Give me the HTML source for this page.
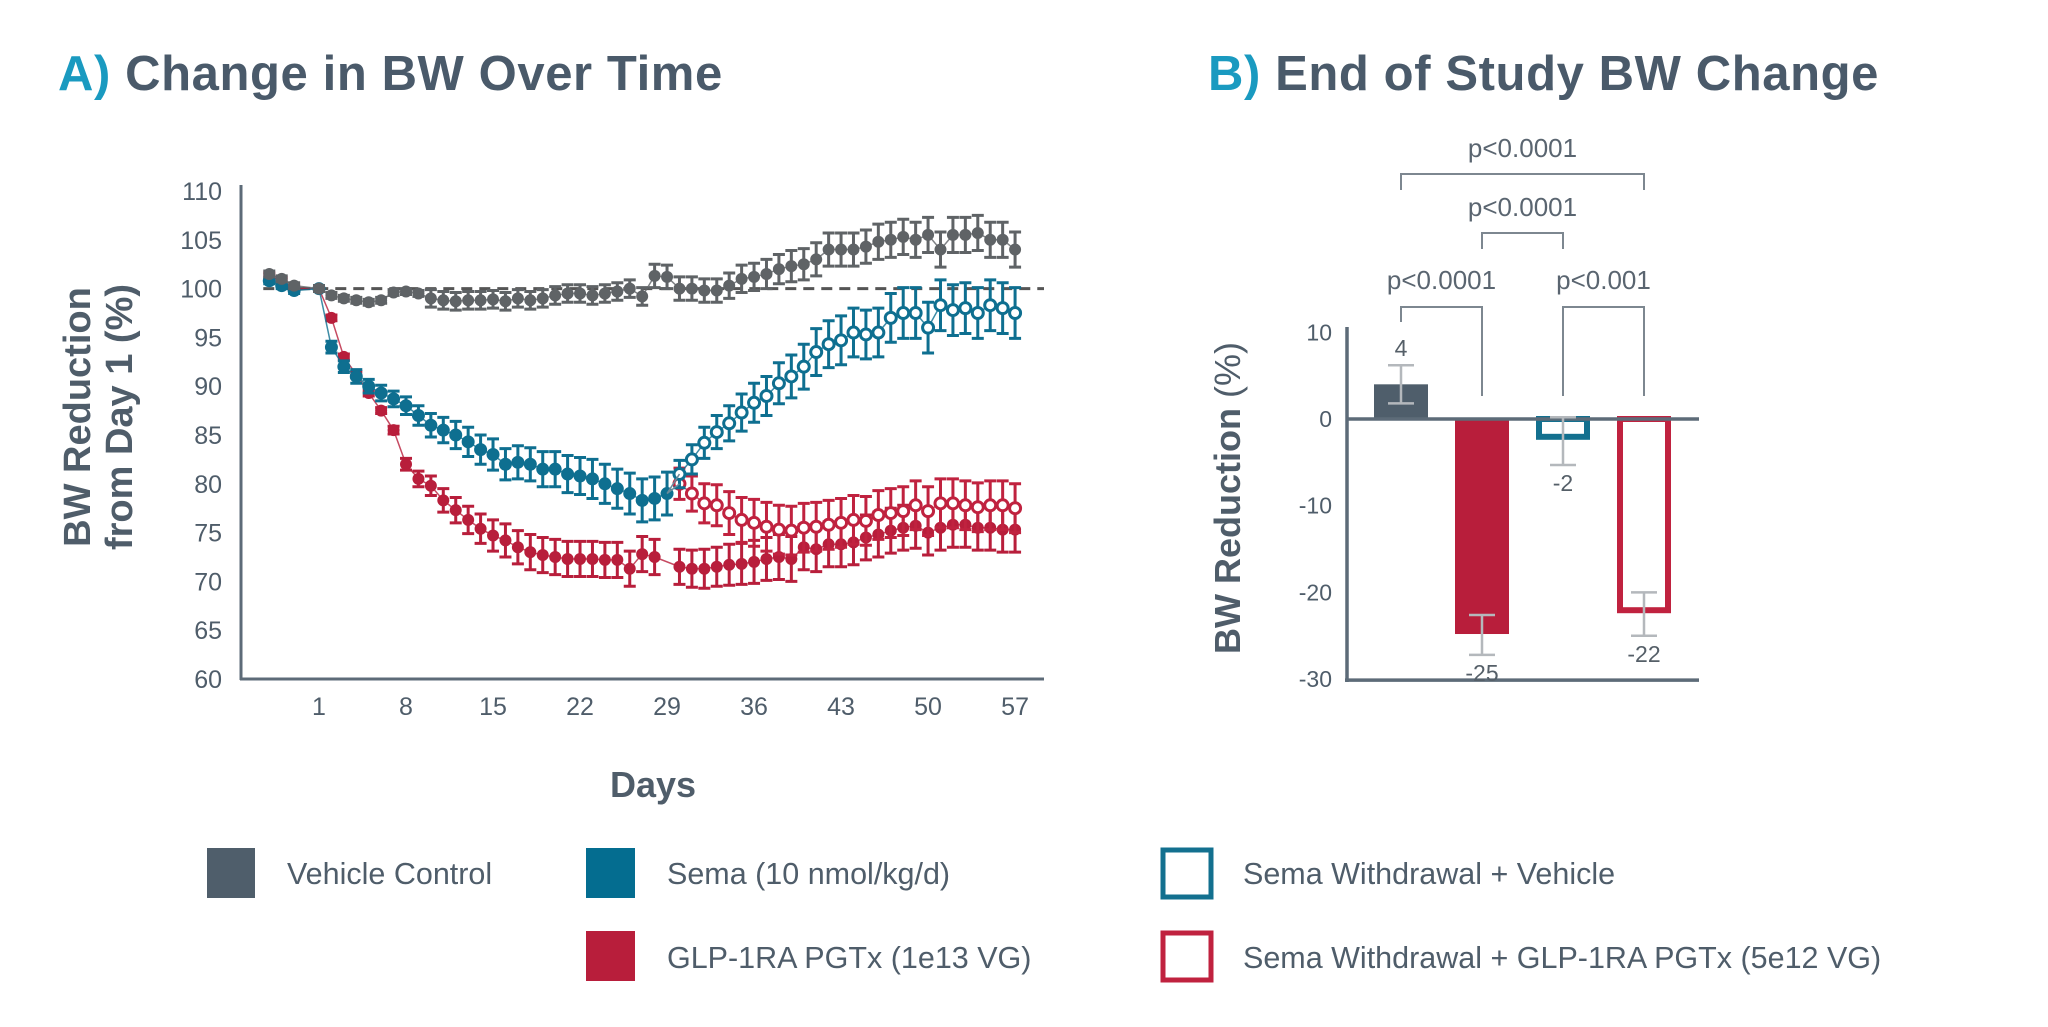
<!DOCTYPE html>
<html><head><meta charset="utf-8"><title>BW Change</title>
<style>
html,body{margin:0;padding:0;background:#fff;}
body{width:2048px;height:1022px;overflow:hidden;font-family:"Liberation Sans",sans-serif;}
svg text{font-family:"Liberation Sans",sans-serif;}
</style></head>
<body>
<svg id="chart" width="2048" height="1022" viewBox="0 0 2048 1022" xmlns="http://www.w3.org/2000/svg">
  <text x="58" y="90" font-size="49" font-weight="bold" letter-spacing="0.6" fill="#4a5a6a"><tspan fill="#1a9ac0">A)</tspan> Change in BW Over Time</text>
  <text x="1208" y="90" font-size="49" font-weight="bold" letter-spacing="0.6" fill="#4a5a6a"><tspan fill="#1a9ac0">B)</tspan> End of Study BW Change</text>

  <g id="panelA"></g>
  <g id="panelB"></g>

  <g font-size="30.5" fill="#4f5d6a">
    <g>
      <rect x="207" y="848" width="48" height="50" fill="#4f5e6b"/>
      <text x="287" y="884">Vehicle Control</text>
    </g>
    <g>
      <rect x="586" y="848" width="49" height="50" fill="#046d90"/>
      <text x="667" y="884">Sema (10 nmol/kg/d)</text>
    </g>
    <g>
      <rect x="586" y="931" width="49" height="50" fill="#b81e3b"/>
      <text x="667" y="968">GLP-1RA PGTx (1e13 VG)</text>
    </g>
    <g>
      <rect x="1163" y="850" width="48" height="47" fill="none" stroke="#13708f" stroke-width="5"/>
      <text x="1243" y="884">Sema Withdrawal + Vehicle</text>
    </g>
    <g>
      <rect x="1163" y="933" width="48" height="47" fill="none" stroke="#c0223f" stroke-width="5"/>
      <text x="1243" y="968">Sema Withdrawal + GLP-1RA PGTx (5e12 VG)</text>
    </g>
  </g>
</svg>
<script>
// ---------- Panel A data ----------
const xTickLabels = [1, 8, 15, 22, 29, 36, 43, 50, 57];
const yTickLabels = [60, 65, 70, 75, 80, 85, 90, 95, 100, 105, 110];

const vehDays = [-3,-2,-1,1,2,3,4,5,6,7,8,9,10,11,12,13,14,15,16,17,18,19,20,21,22,23,24,25,26,27,28,29,30,31,32,33,34,35,36,37,38,39,40,41,42,43,44,45,46,47,48,49,50,51,52,53,54,55,56,57];
const vehVals = [101.5,101,100.3,100,99.3,99,98.8,98.6,98.8,99.6,99.7,99.5,99,98.8,98.7,98.8,98.8,98.9,98.7,99,98.8,99,99.3,99.5,99.5,99.3,99.5,99.7,100,99.2,101.3,101.2,100,100,99.8,99.8,100.3,101,101.2,101.5,102,102.3,102.5,103,104,104,104,104.3,104.8,105,105.3,105,105.5,104,105.5,105.5,105.7,105,105,104];
const vehErr  = [0.3,0.3,0.3,0.3,0.3,0.3,0.3,0.3,0.3,0.3,0.3,0.3,0.9,0.9,0.9,0.9,0.9,0.9,0.9,0.9,0.9,0.9,0.9,0.9,0.9,0.9,0.9,0.9,0.9,0.9,1.2,1.2,1.2,1.2,1.2,1.2,1.3,1.4,1.4,1.5,1.5,1.6,1.6,1.7,1.7,1.7,1.7,1.7,1.8,1.8,1.8,1.8,1.8,1.8,1.8,1.8,1.8,1.8,1.8,1.8];

const semaDays = [-3,-2,-1,1,2,3,4,5,6,7,8,9,10,11,12,13,14,15,16,17,18,19,20,21,22,23,24,25,26,27,28,29];
const semaVals = [100.8,100.3,99.8,100,94,92,91,90,89.3,88.7,88,87,86,85.5,85,84.3,83.5,83,82,82.2,82,81.5,81.5,81,80.8,80.5,80,79.5,79,78.3,78.5,79];
const semaErr  = [0.3,0.3,0.3,0.3,0.6,0.6,0.7,0.7,0.8,0.8,0.9,1,1.2,1.3,1.4,1.5,1.5,1.6,1.6,1.7,1.7,1.8,1.8,1.9,1.9,2,2,2,2.1,2.2,2.2,2.2];

const semaWDays = [30,31,32,33,34,35,36,37,38,39,40,41,42,43,44,45,46,47,48,49,50,51,52,53,54,55,56,57];
const semaWVals = [81,82.5,84.2,85.3,86.2,87.3,88.3,89,90.3,91,92,93.5,94.3,94.7,95.5,95.3,95.5,97,97.5,97.5,96,98.3,97.8,98,97.5,98.3,98,97.5];
const semaWErr  = [1.4,1.5,1.6,1.7,1.8,1.9,2,2,2.1,2.2,2.3,2.4,2.4,2.5,2.5,2.5,2.5,2.5,2.6,2.6,2.6,2.6,2.6,2.6,2.6,2.6,2.6,2.6];

const glpDays = [-3,-2,-1,1,2,3,4,5,6,7,8,9,10,11,12,13,14,15,16,17,18,19,20,21,22,23,24,25,26,27,28,30,31,32,33,34,35,36,37,38,39,40,41,42,43,44,45,46,47,48,49,50,51,52,53,54,55,56,57];
const glpVals = [101.3,100.8,100,100,97,93,91.2,89.3,87.5,85.5,82,80.5,79.8,78.3,77.3,76.3,75.4,74.7,74.2,73.5,73,72.7,72.5,72.3,72.3,72.3,72.2,72.2,71.3,72.8,72.5,71.5,71.3,71.3,71.5,71.7,71.8,72,72.3,72.5,72.3,73.5,73.3,73.8,73.8,74,74.5,74.8,75.2,75.5,75.7,75,75.5,75.8,75.8,75.5,75.5,75.3,75.3];
const glpErr  = [0.3,0.3,0.3,0.3,0.3,0.3,0.3,0.3,0.3,0.4,0.6,0.8,1,1.2,1.3,1.4,1.5,1.6,1.7,1.7,1.8,1.8,1.8,1.8,1.8,1.8,1.8,1.8,1.8,1.8,1.8,1.8,1.9,2,2,2.1,2.1,2.2,2.2,2.3,2.3,2.3,2.3,2.3,2.3,2.3,2.3,2.3,2.3,2.3,2.3,2.3,2.3,2.3,2.3,2.3,2.3,2.3,2.3];

const glpWDays = [30,31,32,33,34,35,36,37,38,39,40,41,42,43,44,45,46,47,48,49,50,51,52,53,54,55,56,57];
const glpWVals = [80,79,78,77.8,77,76.3,76,75.6,75.3,75.2,75.5,75.6,75.8,76,76.3,76.2,76.8,77,77.2,77.8,77.2,78,78,77.8,77.6,77.8,77.8,77.5];
const glpWErr  = [1.6,1.8,2,2.1,2.2,2.3,2.4,2.5,2.5,2.5,2.5,2.5,2.5,2.5,2.5,2.5,2.5,2.5,2.5,2.5,2.5,2.5,2.5,2.5,2.5,2.5,2.5,2.5];

// ---------- Panel B data ----------
const barGroups = ['Vehicle Control','GLP-1RA PGTx (1e13 VG)','Sema Withdrawal + Vehicle','Sema Withdrawal + GLP-1RA PGTx (5e12 VG)'];
const barVals = [4, -24.8, -2.4, -22.4];
const barErrHi = [6.2, -22.6, 0.2, -20];
const barErrLo = [1.8, -27.2, -5.3, -25];
const barLabels = ['4', '-25', '-2', '-22'];
const bTickLabels = [10, 0, -10, -20, -30];
const pLabels = ['p<0.0001', 'p<0.0001', 'p<0.0001', 'p<0.001'];
const pPairs = [[0,3],[1,2],[0,1],[2,3]];

const NS = 'http://www.w3.org/2000/svg';
function mk(tag, attrs, parent) {
  const e = document.createElementNS(NS, tag);
  for (const k in attrs) e.setAttribute(k, attrs[k]);
  parent.appendChild(e);
  return e;
}

// ---------- Panel A ----------
const A = document.getElementById('panelA');
const ax = d => 319 + (d - 1) * 12.43;
const ay = v => 679 - (v - 60) * 9.76;
const AXC = '#5d6b78';

let el = mk('line', {x1: 241, y1: 185, x2: 241, y2: 680, stroke: AXC, 'stroke-width': 3}, A);


el = mk('line', {x1: 240, y1: 679, x2: 1044, y2: 679, stroke: AXC, 'stroke-width': 3}, A);



yTickLabels.forEach(v => {
  const t = mk('text', {x: 222, y: ay(v) + 9, 'font-size': 25, fill: '#4f5d6a', 'text-anchor': 'end'}, A);
  
  
  t.textContent = v;
});
xTickLabels.forEach(d => {
  const t = mk('text', {x: ax(d), y: 715, 'font-size': 25, fill: '#4f5d6a', 'text-anchor': 'middle'}, A);
  
  
  t.textContent = d;
});
el = mk('text', {x: 653, y: 797, 'font-size': 36, 'font-weight': 'bold', fill: '#4f5d6a', 'text-anchor': 'middle'}, A);


el.textContent = 'Days';
el = mk('text', {x: 0, y: 0, 'font-size': 38, 'font-weight': 'bold', fill: '#4f5d6a', 'text-anchor': 'middle', transform: 'translate(90,417) rotate(-90)'}, A);


el.innerHTML = '<tspan x="0" dy="0">BW Reduction</tspan><tspan x="0" dy="42">from Day 1 (%)</tspan>';

el = mk('line', {x1: ax(-3) - 6, y1: ay(100), x2: 1044, y2: ay(100), stroke: '#555', 'stroke-width': 3, 'stroke-dasharray': '11 7'}, A);



function series(name, days, vals, errs, color, open, r) {
  const g = mk('g', {}, A);
  
  
  const pts = days.map((d, i) => ax(d) + ',' + ay(vals[i])).join(' ');
  mk('polyline', {points: pts, fill: 'none', stroke: color, 'stroke-width': 1.5, opacity: 0.8}, g);
  days.forEach((d, i) => {
    const x = ax(d), y1 = ay(vals[i] + errs[i]), y2 = ay(vals[i] - errs[i]);
    const eb = mk('path', {d: `M${x},${y1}V${y2}M${x-6},${y1}H${x+6}M${x-6},${y2}H${x+6}`, stroke: color, 'stroke-width': 3, fill: 'none'}, g);
    
    
  });
  days.forEach((d, i) => {
    const c = mk('circle', {cx: ax(d), cy: ay(vals[i]), r: r, fill: open ? '#fff' : color, stroke: color, 'stroke-width': open ? 3 : 1}, g);
    
    
  });
}
series('series-glp1ra', glpDays, glpVals, glpErr, '#b81e3b', false, 5.5);
series('series-sema', semaDays, semaVals, semaErr, '#0e6f90', false, 6);
series('series-sema-withdrawal-glp1ra', glpWDays, glpWVals, glpWErr, '#c0223f', true, 5.5);
series('series-sema-withdrawal-vehicle', semaWDays, semaWVals, semaWErr, '#0e6f90', true, 5.5);
series('series-vehicle', vehDays, vehVals, vehErr, '#5f6366', false, 5.5);
el = mk('path', {d: `M${ax(29)},${ay(semaVals[semaVals.length-1])}L${ax(30)},${ay(semaWVals[0])}M${ax(29)},${ay(semaVals[semaVals.length-1])}L${ax(30)},${ay(glpWVals[0])}`, stroke: '#6a8a9a', 'stroke-width': 1.5, fill: 'none'}, A);



// ---------- Panel B ----------
const B = document.getElementById('panelB');
const by = v => 419 - v * 8.67;
const bx = i => 1374 + i * 81;
const BW = 54;
const bc = i => bx(i) + BW / 2;
const barFill = ['#4f5e6b', '#b81e3b', 'none', 'none'];
const barStroke = ['none', 'none', '#13708f', '#c0223f'];

el = mk('line', {x1: 1347, y1: 327, x2: 1347, y2: 682, stroke: AXC, 'stroke-width': 3.5}, B);


el = mk('line', {x1: 1345, y1: by(-30) + 1, x2: 1699, y2: by(-30) + 1, stroke: AXC, 'stroke-width': 3.5}, B);



bTickLabels.forEach(v => {
  const t = mk('text', {x: 1332, y: by(v) + 8, 'font-size': 23, fill: '#4f5d6a', 'text-anchor': 'end'}, B);
  
  
  t.textContent = v;
});
el = mk('text', {x: 0, y: 0, 'font-size': 36, 'font-weight': 'bold', fill: '#4f5d6a', 'text-anchor': 'middle', transform: 'translate(1240,498) rotate(-90)'}, B);


el.innerHTML = 'BW Reduction <tspan font-weight="normal">(%)</tspan>';

barVals.forEach((v, i) => {
  const top = Math.min(by(0), by(v)), h = Math.abs(by(v) - by(0));
  let r;
  if (barFill[i] !== 'none') {
    r = mk('rect', {x: bx(i), y: top, width: BW, height: h, fill: barFill[i]}, B);
  } else {
    r = mk('rect', {x: bx(i) + 3, y: top, width: BW - 6, height: h - 3, fill: '#fff', stroke: barStroke[i], 'stroke-width': 6}, B);
  }
  
  
});
el = mk('line', {x1: 1347, y1: by(0), x2: 1699, y2: by(0), stroke: AXC, 'stroke-width': 3.5}, B);



barVals.forEach((v, i) => {
  const x = bc(i), y1 = by(barErrHi[i]), y2 = by(barErrLo[i]);
  const e = mk('path', {d: `M${x},${y1}V${y2}M${x-13},${y1}H${x+13}M${x-13},${y2}H${x+13}`, stroke: '#b4b8bc', 'stroke-width': 2.5, fill: 'none'}, B);
  
  
  const ly = v >= 0 ? by(barErrHi[i]) - 9 : by(barErrLo[i]) + 26;
  const t = mk('text', {x: x, y: ly, 'font-size': 23, fill: '#555f68', 'text-anchor': 'middle'}, B);
  
  
  t.textContent = barLabels[i];
});

const brGeom = [[174,190,190,157],[233,249,249,216],[307,322,396,289],[307,396,396,289]];
pPairs.forEach((p, k) => {
  const x1 = bc(p[0]), x2 = bc(p[1]);
  const gm = brGeom[k];
  const b = mk('path', {d: `M${x1},${gm[1]}V${gm[0]}H${x2}V${gm[2]}`, stroke: '#7d8790', 'stroke-width': 2, fill: 'none'}, B);
  
  
  const t = mk('text', {x: (x1 + x2) / 2, y: gm[3], 'font-size': 26, fill: '#5a6570', 'text-anchor': 'middle'}, B);
  
  
  t.textContent = pLabels[k];
});
</script>
</body></html>
